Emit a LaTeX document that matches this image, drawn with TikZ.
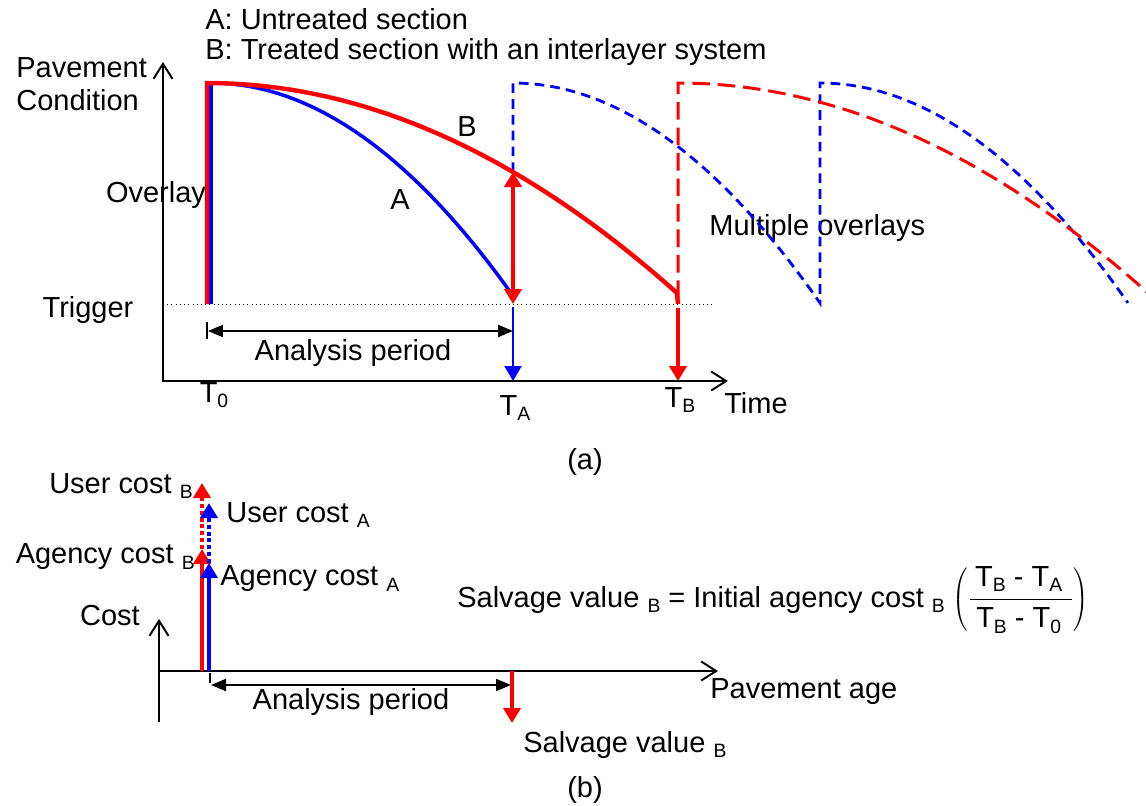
\documentclass[tikz,border=0pt]{standalone}
\usepackage{fontspec}
\setmainfont{Liberation Sans}
\usetikzlibrary{arrows.meta}
\newcommand{\subtxt}[1]{\raisebox{-0.35ex}{\fontsize{11}{11}\selectfont #1}}
\newcommand{\lsub}[1]{ \subtxt{#1}}
\tikzset{
	tri/.tip={Triangle[length=0.3cm,width=0.34cm]},
	smalltri/.tip={Triangle[length=0.3cm,width=0.24cm]},
	barb/.tip={Straight Barb[length=0.3cm,width=0.38cm]}
}
\begin{document}
\begin{tikzpicture}[x=0.02cm,y=-0.02cm,
		every node/.style={font=\fontsize{16.5}{19}\selectfont,inner sep=0pt},
		axis/.style={line width=1.1pt},
		redline/.style={red,line width=2.5pt},
		blueline/.style={blue,line width=2pt},
		reddash/.style={red,line width=1.7pt,dash pattern=on 10pt off 4.5pt},
		bluedash/.style={blue,line width=1.6pt,dash pattern=on 5.5pt off 3.5pt},
		costdot/.style={line width=2.2pt,dash pattern=on 2.3pt off 1.6pt},
		period/.style={line width=1.1pt,smalltri-smalltri}]
	\useasboundingbox (0,0) rectangle (1146,805);
	% (a) pavement condition
	\coordinate (o1) at (163,381);
	\coordinate (t0) at (207,304);
	\coordinate (ta) at (513,304);
	\coordinate (tb) at (678,304);
	\node[anchor=west] (legA) at (205,19) {A: Untreated section};
	\node[anchor=west] (legB) at (205,52) {B: Treated section with an interlayer system};
	\node[anchor=west,align=left] (ylab) at (16,84) {Pavement\\Condition};
	\node (overlay) at (156,195) {Overlay};
	\node (trigger) at (88,310) {Trigger};
	\node (lblA) at (400,200) {A};
	\node (lblB) at (467,127) {B};
	\node[anchor=west] (multi) at (709,228) {Multiple overlays};
	\node (T0) at (214,395) {T\subtxt{0}};
	\node (TA) at (515,408) {T\subtxt{A}};
	\node (TB) at (680,400) {T\subtxt{B}};
	\node (time) at (756,403) {Time};
	\node (per1) at (353,353) {Analysis period};
	\node (capa) at (585,462) {(a)};
	\draw[axis,barb-barb] (163,62) -- (o1) -- (728,381);
	\draw[dotted] (o1 |- t0) -- (713,304);
	\draw[bluedash] (513,172) -- (513,83) -- plot[domain=0:1,samples=40] ({513+307*\x},{83+220*\x*\x})
		-- (820,83) -- plot[domain=0:1,samples=40] ({820+308*\x},{83+220*\x*\x});
	\draw[reddash] (678,298) -- (678,83) -- plot[domain=0:1,samples=40] ({678+470*\x},{83+210*\x*\x});
	\draw[blueline] (211,304) -- (211,83) -- plot[domain=0:1,samples=40] ({211+300*\x},{83+210*\x*\x});
	\draw[redline] (t0) -- (207,83) -- plot[domain=0:1,samples=40] ({207+470*\x},{83+210*\x*\x}) -- (tb);
	\draw[redline,tri-tri] (513,172) -- (ta);
	\draw[blue,line width=1.1pt,-tri] (513,307) -- (ta |- o1);
	\draw[redline,-tri] (678,308) -- (tb |- o1);
	\draw[line width=0.6pt] (207,322) -- (207,339);
	\draw[period] (208,331) -- (513,331);
	% (b) cost
	\coordinate (o2) at (159,671);
	\node[anchor=east] (ucB) at (193,486) {User cost\lsub{B}};
	\node[anchor=west] (ucA) at (226,515) {User cost\lsub{A}};
	\node[anchor=east] (acB) at (195,557) {Agency cost\lsub{B}};
	\node[anchor=west] (acA) at (220,579) {Agency cost\lsub{A}};
	\node (cost) at (110,616) {Cost};
	\node[anchor=west] (age) at (710,692) {Pavement age};
	\node (per2) at (351,702) {Analysis period};
	\node[anchor=west] (salv) at (523,745) {Salvage value\lsub{B}};
	\node[anchor=west] (eq) at (457,600) {Salvage value\lsub{B} = Initial agency cost\lsub{B}
		$\displaystyle\left(\frac{\mbox{\,T\subtxt{B} - T\subtxt{A}\,\,}}{\mbox{\,T\subtxt{B} - T\subtxt{0}\,\,}}\right)$};
	\node (capb) at (585,790) {(b)};
	\draw[axis,-barb] (159,722) -- (159,619);
	\draw[axis,-barb] (o2) -- (718,671);
	\draw[red,line width=2.3pt,-tri] (202,671) -- (202,549);
	\draw[red,costdot,-tri] (202,549) -- (202,483);
	\draw[blue,line width=2pt,-tri] (209,671) -- (209,563);
	\draw[blue,costdot,-tri] (209,563) -- (209,503);
	\draw[line width=0.6pt] (210,673) -- (210,683);
	\draw[period] (211,685) -- (511,685);
	\draw[red,line width=2pt,-tri] (512,671) -- (512,723);
\end{tikzpicture}
\end{document}
